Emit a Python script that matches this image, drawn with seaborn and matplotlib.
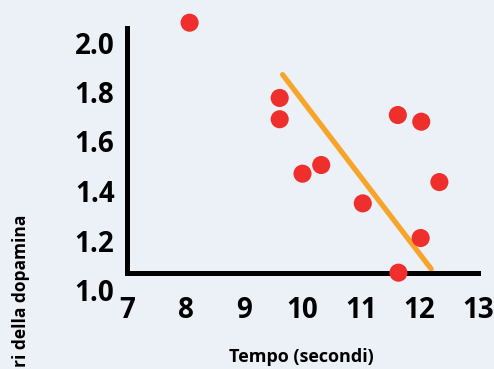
import matplotlib
matplotlib.use("Agg")
import matplotlib.pyplot as plt
import seaborn as sns
import pandas as pd

# Data
tempo = [8.07, 9.61, 9.61, 10.0, 10.32, 11.03, 11.63, 11.64, 12.02, 12.03, 12.34]
dopamina = [2.08, 1.776, 1.69, 1.47, 1.505, 1.35, 1.707, 1.07, 1.21, 1.68, 1.436]
trend_x = [9.66, 12.2]
trend_y = [1.87, 1.085]
x_ticks = [7, 8, 9, 10, 11, 12, 13]
y_ticks = [1.0, 1.2, 1.4, 1.6, 1.8, 2.0]
y_tick_labels = ["1.0", "1.2", "1.4", "1.6", "1.8", "2.0"]

sns.set_style("white")
plt.rcParams['font.family'] = ['Open Sans', 'DejaVu Sans']

bg = '#ECF1F8'
fig = plt.figure(figsize=(4.94, 3.69), dpi=100, facecolor=bg)
W, H = 494, 369
# axes placement (pixels): x 127..478, y top 17.75 .. bottom 314.75
ax = fig.add_axes([127 / W, (H - 314.75) / H, 351 / W, 297 / H])
ax.set_facecolor('none')

df = pd.DataFrame({"t": tempo, "d": dopamina})
tdf = pd.DataFrame({"x": trend_x, "y": trend_y})

sns.lineplot(data=tdf, x="x", y="y", ax=ax, color='#F7A52A', linewidth=3.8,
             zorder=2, clip_on=False)
sns.scatterplot(data=df, x="t", y="d", ax=ax, color='#EE2F2B', s=170,
                edgecolor='none', linewidth=0, zorder=3, clip_on=False)

ax.set_xlim(7, 12.95)
ax.set_ylim(0.9, 2.1)

for s in ['top', 'right']:
    ax.spines[s].set_visible(False)
ax.spines['left'].set_linewidth(3.6)
ax.spines['bottom'].set_linewidth(3.6)
ax.spines['left'].set_color('black')
ax.spines['bottom'].set_color('black')
ax.spines['bottom'].set_position(('data', 1.07))
ax.spines['left'].set_bounds(1.07, 2.06)
ax.spines['left'].set_capstyle('projecting')

ax.set_xticks(x_ticks)
ax.set_xticklabels([str(v) for v in x_ticks])
ax.set_yticks(y_ticks)
ax.set_yticklabels(y_tick_labels)
ax.tick_params(axis='x', length=0, pad=17, labelsize=20)
ax.tick_params(axis='y', length=0, pad=9, labelsize=20)
for lab in ax.get_xticklabels() + ax.get_yticklabels():
    lab.set_fontweight('bold')
    lab.set_color('black')

ax.set_xlabel("")
ax.set_ylabel("")

fig.text(301 / W, 1 - 357 / H, "Tempo (secondi)", ha='center', va='center',
         fontsize=13, fontweight='bold', color='black')
fig.text(21 / W, 1 - 215 / H, "ri della dopamina",
         rotation=90, ha='center', va='top', fontsize=12.5, fontweight='bold',
         color='black')

fig.savefig("out.png", dpi=100, facecolor=bg)
